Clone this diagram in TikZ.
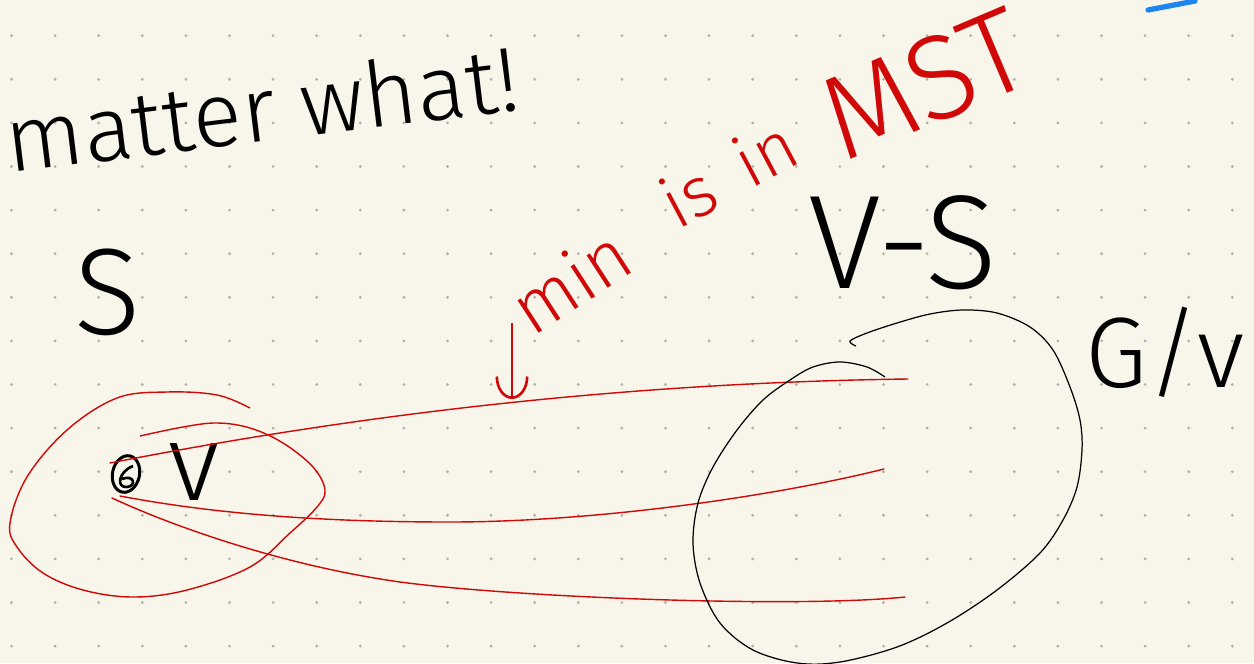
\documentclass[tikz,border=0pt]{standalone}
\usepackage{fontspec}
\setmainfont{Fira Sans Light}
\usepackage{tikz}
\usetikzlibrary{arrows.meta, shapes.geometric, calc}
\definecolor{paper}{RGB}{248,246,234}
\definecolor{dotgrey}{RGB}{178,178,172}
\definecolor{penred}{RGB}{208,8,8}
\definecolor{penblue}{RGB}{30,132,240}
\newcommand{\penfont}[1]{\fontsize{#1}{#1}\selectfont}
\tikzset{
  ink/.style={inner sep=0pt, text=black},
  redink/.style={inner sep=0pt, text=penred},
  cutedge/.style={draw=penred, line width=0.8pt, line cap=round},
}

\begin{document}
\begin{tikzpicture}[x=0.02cm, y=-0.02cm]
\fill[paper] (0,0) rectangle (1254,663);
\useasboundingbox (0,0) rectangle (1254,663);
% dot grid of the page
\foreach \i in {0,...,28}
  \foreach \j in {0,...,14}
    \fill[dotgrey] (11.5+43.6*\i, 35.7+43.6*\j) circle (0.9pt);

% black writing
\node[ink, rotate=7] (matter) at (262,108) {\penfont{52}matter what!};
\node[ink] (setS) at (108,292) {\penfont{70}S};
\node[ink] (rest) at (903,243) {\penfont{76}V-S};
\node[ink] (contr) at (1165,352) {\penfont{57}G/v};
\draw[penblue, line width=3pt, line cap=round] (1148,10) -- (1195,1);

% red writing
\node[redink, rotate=33] (wmin) at (570,280) {\penfont{42}min};
\node[redink, rotate=28] (wis) at (688,195) {\penfont{40}is};
\node[redink, rotate=28] (win) at (765,152) {\penfont{40}in};
\node[redink, rotate=23] (mst) at (925,84) {\penfont{68}MST};

% the vertex v
\node[draw, ellipse, line width=1.7pt, minimum width=0.54cm, minimum height=0.74cm, rotate=-12] (vtx) at (126,474) {};
\draw[line width=1.5pt] (133,466) .. controls (118,472) and (116,488) .. (127,487) .. controls (137,486) and (134,474) .. (122,479);
\node[ink] (vlbl) at (194,472) {\penfont{62}v};

% edges out of v
\coordinate (topend) at (908,379);
\coordinate (midend) at (884,469);
\coordinate (lowend) at (905,597);
\draw[cutedge] ($(vtx)+(-16,-11)$) .. controls (330,420) and (600,383) .. (topend);
\draw[cutedge] ($(vtx)+(-6,22)$) .. controls (220,515) and (330,522) .. (450,522) .. controls (600,522) and (780,495) .. (midend);
\draw[cutedge] ($(vtx)+(-14,24)$) .. controls (170,525) and (280,565) .. (400,582) .. controls (520,598) and (800,608) .. (lowend);

% arrow to the min edge
\coordinate (arrtop) at (512,323);
\coordinate (arrtip) at (512,399);
\draw[penred, line width=1.5pt, -{Arc Barb[length=0.45cm, width=0.66cm]}] (arrtop) -- (arrtip);

% loop round S
\draw[penred, line width=0.8pt] plot[smooth, tension=0.6] coordinates {(250,408) (217,395) (167,392) (117,398) (67,430) (27,477) (10,523) (17,547) (43,573) (83,590) (133,597) (187,590) (250,567) (290,533) (317,507) (325,490) (313,467) (283,443) (250,428) (217,423) (183,427) (140,436)};

% loop round V-S
\draw[line width=0.7pt] plot[smooth, tension=0.55] coordinates {(856,346) (850,341) (867,333) (897,323) (930,314) (963,310) (997,313) (1030,327) (1053,350) (1070,387) (1080,420) (1082,450) (1077,487) (1063,520) (1040,553) (997,590) (947,623) (897,647) (840,662) (797,663) (753,650) (720,623) (700,583) (693,543) (698,503) (713,467) (737,430) (763,400) (790,380) (813,367) (840,362) (867,367) (885,377)};
\end{tikzpicture}
\end{document}
